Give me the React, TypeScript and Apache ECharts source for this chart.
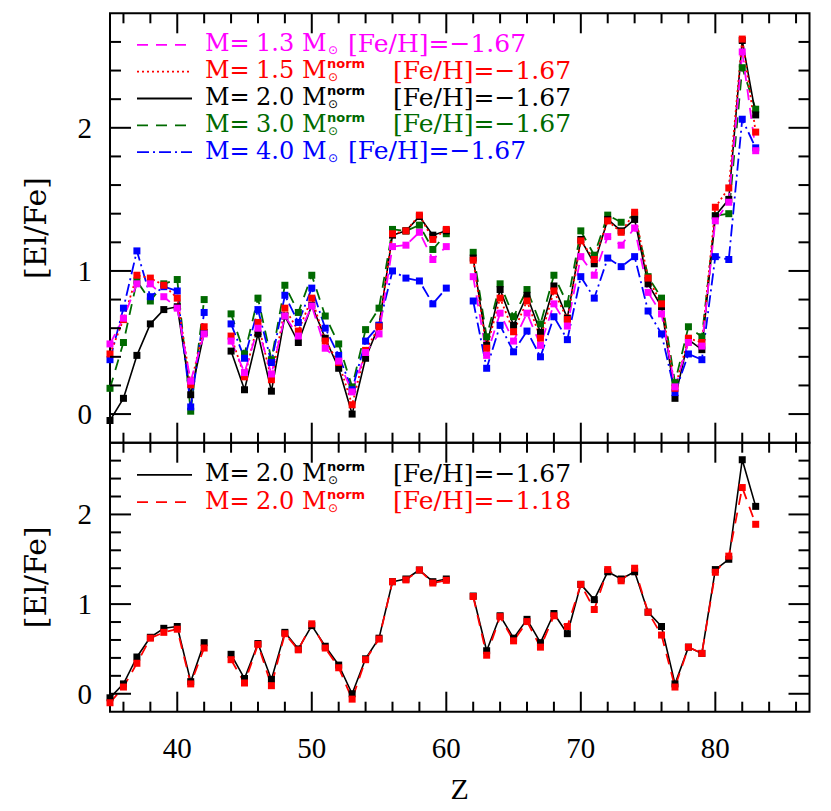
import React, { useEffect, useRef } from "react";
import * as echarts from "echarts";

// Atomic number Z (43 = Tc and 61 = Pm have no value)
const Z = [35, 36, 37, 38, 39, 40, 41, 42, 43, 44, 45, 46, 47, 48, 49, 50, 51, 52, 53, 54, 55, 56, 57, 58, 59, 60, 61, 62, 63, 64, 65, 66, 67, 68, 69, 70, 71, 72, 73, 74, 75, 76, 77, 78, 79, 80, 81, 82, 83];

const M13 = [0.49, 0.67, 0.91, 0.91, 0.82, 0.74, 0.23, 0.56, null, 0.51, 0.29, 0.60, 0.28, 0.685, 0.545, 0.755, 0.46, 0.37, 0.155, 0.43, 0.56, 1.17, 1.18, 1.27, 1.08, 1.17, null, 0.96, 0.41, 0.705, 0.51, 0.705, 0.48, 0.77, 0.615, 1.10, 0.97, 1.24, 1.18, 1.30, 0.85, 0.70, 0.19, 0.50, 0.475, 1.35, 1.48, 2.53, 1.84];
const M15 = [0.42, 0.66, 0.97, 0.95, 0.90, 0.81, 0.205, 0.61, null, 0.545, 0.26, 0.64, 0.24, 0.74, 0.58, 0.81, 0.51, 0.36, 0.065, 0.445, 0.61, 1.26, 1.28, 1.39, 1.22, 1.29, null, 1.075, 0.46, 0.81, 0.575, 0.79, 0.53, 0.86, 0.66, 1.21, 1.08, 1.35, 1.27, 1.41, 0.95, 0.77, 0.18, 0.53, 0.50, 1.445, 1.58, 2.62, 1.97];
const M20 = [-0.045, 0.11, 0.41, 0.63, 0.73, 0.75, 0.135, 0.57, null, 0.44, 0.17, 0.56, 0.16, 0.685, 0.50, 0.76, 0.53, 0.32, 0.0, 0.39, 0.62, 1.25, 1.28, 1.38, 1.25, 1.28, null, 1.09, 0.48, 0.87, 0.62, 0.83, 0.57, 0.895, 0.67, 1.22, 1.05, 1.36, 1.28, 1.36, 0.91, 0.75, 0.11, 0.52, 0.45, 1.385, 1.50, 2.61, 2.09];
const M30 = [0.18, 0.50, 0.93, 0.79, 0.91, 0.94, 0.02, 0.80, null, 0.70, 0.42, 0.81, 0.38, 0.90, 0.71, 0.97, 0.685, 0.49, 0.19, 0.59, 0.74, 1.29, 1.28, 1.32, 1.15, 1.26, null, 1.13, 0.54, 0.91, 0.68, 0.87, 0.63, 0.97, 0.77, 1.28, 1.11, 1.39, 1.34, 1.39, 0.96, 0.81, 0.22, 0.61, 0.54, 1.385, 1.40, 2.42, 2.13];
const M40 = [0.38, 0.74, 1.14, 0.82, 0.89, 0.86, 0.05, 0.71, null, 0.63, 0.39, 0.73, 0.36, 0.83, 0.64, 0.88, 0.60, 0.41, 0.17, 0.51, 0.62, 1.00, 0.95, 0.93, 0.77, 0.88, null, 0.79, 0.32, 0.62, 0.435, 0.58, 0.40, 0.68, 0.52, 0.96, 0.81, 1.09, 1.03, 1.10, 0.72, 0.56, 0.15, 0.42, 0.38, 1.10, 1.08, 2.06, 1.86];
const M20_FEH118 = [-0.10, 0.075, 0.34, 0.62, 0.685, 0.72, 0.11, 0.51, null, 0.38, 0.12, 0.55, 0.09, 0.67, 0.49, 0.78, 0.51, 0.29, -0.06, 0.38, 0.61, 1.25, 1.27, 1.38, 1.235, 1.265, null, 1.085, 0.43, 0.86, 0.59, 0.805, 0.52, 0.87, 0.75, 1.22, 0.94, 1.385, 1.26, 1.40, 0.91, 0.655, 0.075, 0.52, 0.45, 1.355, 1.535, 2.30, 1.89];

// Ticks
const X_MAJOR = [40, 50, 60, 70, 80];
const X_MINOR = [36, 38, 42, 44, 46, 48, 52, 54, 56, 58, 62, 64, 66, 68, 72, 74, 76, 78, 82, 84, 86];
const Y_MAJOR = [0, 1, 2];
const Y_MINOR = [0.2, 0.4, 0.6, 0.8, 1.2, 1.4, 1.6, 1.8, 2.2, 2.4, 2.6];

// Legend texts
const TOP_MASS = ["1.3", "1.5", "2.0", "3.0", "4.0"];
const TOP_NORM = [false, true, true, true, false];
const TOP_FEH = ["−1.67", "−1.67", "−1.67", "−1.67", "−1.67"];
const BOT_MASS = ["2.0", "2.0"];
const BOT_NORM = [true, true];
const BOT_FEH = ["−1.67", "−1.18"];

const C_MAG = "#ff00ff";
const C_RED = "#ff0000";
const C_BLK = "#000000";
const C_GRN = "#006a00";
const C_BLU = "#0000ff";

const DASH_MAG = [11, 8];
const DASH_RED = [2, 3];
const DASH_GRN = [11, 8];
const DASH_BLU = [12, 4, 2, 4];

const TOP_COLORS = [C_MAG, C_RED, C_BLK, C_GRN, C_BLU];
const TOP_DASH: any[] = [DASH_MAG, DASH_RED, null, DASH_GRN, DASH_BLU];
const BOT_COLORS = [C_BLK, C_RED];
const BOT_DASH: any[] = [null, [11, 8]];

const SERIF = "'DejaVu Serif', serif";
const AXSERIF = "'Liberation Serif', serif";

function lineSeries(name: string, vals: (number | null)[], color: string, dash: any, idx: number, width = 1.8) {
  return {
    type: "line",
    name,
    xAxisIndex: idx,
    yAxisIndex: idx,
    data: Z.map((z, i) => [z, vals[i] === null ? "-" : vals[i]]),
    symbol: "rect",
    symbolSize: 7,
    showSymbol: true,
    connectNulls: false,
    lineStyle: { color, width, type: dash || "solid" },
    itemStyle: { color },
    emphasis: { disabled: true },
  };
}

function tickRender(params: any, api: any) {
  const cs = params.coordSys;
  const kind = api.value(2);
  const st = { stroke: "#000", lineWidth: 2 };
  if (kind === 0 || kind === 1) {
    const px = api.coord([api.value(0), 1])[0];
    const len = kind === 1 ? 20 : 10;
    const yb = cs.y + cs.height;
    const yt = cs.y;
    return {
      type: "group",
      children: [
        { type: "line", shape: { x1: px, y1: yb, x2: px, y2: yb - len }, style: st },
        { type: "line", shape: { x1: px, y1: yt, x2: px, y2: yt + len }, style: st },
      ],
    };
  }
  const py = api.coord([40, api.value(1)])[1];
  const len = kind === 3 ? 21 : 11;
  const xl = cs.x;
  const xr = cs.x + cs.width;
  return {
    type: "group",
    children: [
      { type: "line", shape: { x1: xl, y1: py, x2: xl + len, y2: py }, style: st },
      { type: "line", shape: { x1: xr, y1: py, x2: xr - len, y2: py }, style: st },
    ],
  };
}

function tickSeries(idx: number) {
  const data = [
    ...X_MAJOR.map((v) => [v, 0, 1]),
    ...X_MINOR.map((v) => [v, 0, 0]),
    ...Y_MAJOR.map((v) => [40, v, 3]),
    ...Y_MINOR.map((v) => [40, v, 2]),
  ];
  return {
    type: "custom",
    xAxisIndex: idx,
    yAxisIndex: idx,
    data,
    renderItem: tickRender,
    silent: true,
    z: 10,
  };
}

function legendRow(yc: number, mass: string, norm: boolean, feh: string, color: string, dash: any) {
  const font = (size: number) => `${size}px ${SERIF}`;
  const els: any[] = [
    {
      type: "line",
      shape: { x1: 137, y1: yc + 1.5, x2: 192, y2: yc + 1.5 },
      style: { stroke: color, lineWidth: 1.8, lineDash: dash || null },
    },
    { type: "text", x: 205, y: yc, style: { text: "M=", font: font(24), fill: color, verticalAlign: "middle" } },
    { type: "text", x: 256, y: yc, style: { text: mass, font: font(24), fill: color, verticalAlign: "middle" } },
    { type: "text", x: 302, y: yc, style: { text: "M", font: font(24), fill: color, verticalAlign: "middle" } },
    { type: "text", x: 333, y: yc + 7, style: { text: "⊙", font: `12px 'DejaVu Sans', sans-serif`, lineHeight: 12, fill: color, align: "center", verticalAlign: "middle" } },
    { type: "text", x: norm ? 393 : 348, y: yc, style: { text: "[Fe/H]=" + feh, font: font(25), fill: color, verticalAlign: "middle" } },
  ];
  if (norm) {
    els.push({ type: "text", x: 327, y: yc - 6.5, style: { text: "norm", font: `bold 13px 'DejaVu Sans', sans-serif`, lineHeight: 12, fill: color, verticalAlign: "middle" } });
  }
  return els;
}

function yAxisCfg(idx: number) {
  return {
    type: "value",
    gridIndex: idx,
    min: -0.2,
    max: 2.8,
    interval: 0.2,
    name: "[El/Fe]",
    nameLocation: "middle",
    nameGap: 60,
    nameTextStyle: { fontFamily: SERIF, fontSize: 30, color: "#000" },
    axisLine: { show: false },
    axisTick: { show: false },
    splitLine: { show: false },
    axisLabel: {
      color: "#000",
      fontFamily: AXSERIF,
      fontSize: 29,
      margin: 18,
      formatter: (v: number) => {
        const r = Math.round(v);
        return Math.abs(v - r) < 1e-6 ? String(r) : "";
      },
    },
  };
}

function xAxisCfg(idx: number, labels: boolean) {
  return {
    type: "value",
    gridIndex: idx,
    min: 35,
    max: 87,
    interval: 5,
    name: labels ? "Z" : "",
    nameLocation: "middle",
    nameGap: 62,
    nameTextStyle: { fontFamily: AXSERIF, fontSize: 30, color: "#000" },
    axisLine: { show: false },
    axisTick: { show: false },
    splitLine: { show: false },
    axisLabel: {
      show: labels,
      color: "#000",
      fontFamily: AXSERIF,
      fontSize: 29,
      margin: 22,
      formatter: (v: number) => (v % 10 === 0 ? String(v) : ""),
    },
  };
}

export default function App() {
  const ref = useRef<HTMLDivElement>(null);
  useEffect(() => {
    if (!ref.current) return;
    const chart = echarts.init(ref.current, undefined, { renderer: "svg" });
    const graphics: any[] = [];
    TOP_MASS.forEach((m, i) => {
      graphics.push(...legendRow(43.3 + 26.85 * i, m, TOP_NORM[i], TOP_FEH[i], TOP_COLORS[i], TOP_DASH[i]));
    });
    BOT_MASS.forEach((m, i) => {
      graphics.push(...legendRow(473.3 + 27.4 * i, m, BOT_NORM[i], BOT_FEH[i], BOT_COLORS[i], BOT_DASH[i]));
    });
    chart.setOption({
      animation: false,
      backgroundColor: "#ffffff",
      grid: [
        { left: 110, top: 13.3, width: 699.5, height: 429.4, show: true, borderColor: "#000", borderWidth: 2, backgroundColor: "transparent" },
        { left: 110, top: 442.7, width: 699.5, height: 269, show: true, borderColor: "#000", borderWidth: 2, backgroundColor: "transparent" },
      ],
      xAxis: [xAxisCfg(0, false), xAxisCfg(1, true)],
      yAxis: [yAxisCfg(0), yAxisCfg(1)],
      series: [
        lineSeries("M=3.0 norm", M30, C_GRN, DASH_GRN, 0),
        lineSeries("M=2.0 norm", M20, C_BLK, null, 0, 1.6),
        lineSeries("M=4.0", M40, C_BLU, DASH_BLU, 0),
        lineSeries("M=1.5 norm", M15, C_RED, DASH_RED, 0),
        lineSeries("M=1.3", M13, C_MAG, DASH_MAG, 0),
        lineSeries("M=2.0 norm [Fe/H]=-1.67", M20, C_BLK, null, 1, 1.6),
        lineSeries("M=2.0 norm [Fe/H]=-1.18", M20_FEH118, C_RED, [11, 8], 1),
        tickSeries(0),
        tickSeries(1),
      ],
      graphic: graphics,
    });
    return () => chart.dispose();
  }, []);
  return <div ref={ref} style={{ position: "fixed", left: 0, top: 0, width: 831, height: 811 }} />;
}
